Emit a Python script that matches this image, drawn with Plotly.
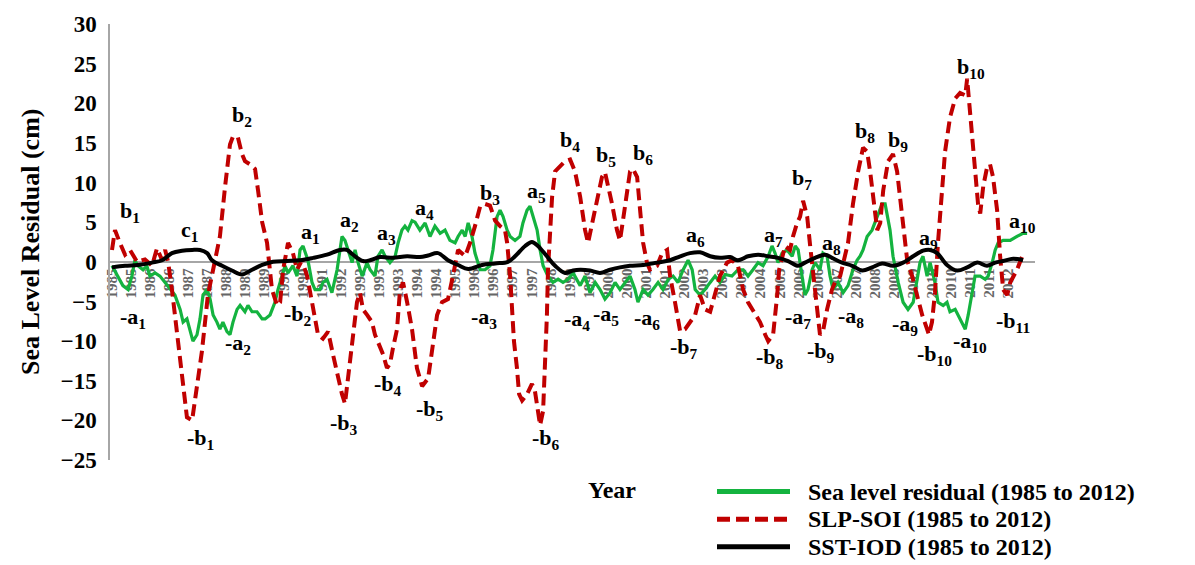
import plotly.graph_objects as go

# ---------------- data (x = months since Jan 1985) ----------------
soi_month = [0.0,1.1,2.9,4.8,6.6,9.2,12.1,14.7,16.5,18.4,19.5,20.6,22.0,23.9,26.1,27.5,29.4,30.5,33.0,35.2,37.8,39.6,41.5,43.3,44.4,46.2,47.7,48.8,50.6,52.5,53.6,55.1,56.9,58.7,60.6,61.7,62.8,64.6,66.4,67.9,69.7,71.6,73.4,75.6,77.4,79.3,81.1,82.9,84.4,85.5,86.6,88.1,89.9,91.0,92.1,93.6,95.4,96.5,98.4,99.5,100.9,102.0,103.1,104.6,105.7,106.8,108.3,110.1,111.9,113.8,116.0,117.8,119.3,121.1,123.3,125.1,127.0,129.6,131.4,133.2,135.1,136.9,138.7,140.6,142.4,144.2,145.0,146.1,146.8,147.5,148.6,149.4,150.5,152.3,154.1,155.2,156.3,157.1,158.2,158.9,159.6,160.0,160.7,161.5,162.6,164.4,166.3,168.1,169.9,171.8,173.6,174.7,176.2,178.0,179.8,180.9,182.0,183.5,185.3,186.4,187.5,189.0,190.1,191.2,192.7,193.8,194.9,196.3,197.4,200.0,201.9,203.7,204.8,206.6,208.5,210.3,212.1,214.0,215.8,217.6,219.5,221.3,223.1,225.7,227.5,229.7,231.6,233.4,236.0,237.8,239.7,240.8,242.6,243.3,244.1,244.8,245.9,247.0,248.8,249.9,251.4,252.5,253.6,255.1,256.2,257.3,258.7,259.8,260.9,262.4,264.2,265.3,267.2,268.3,270.1,271.9,273.8,275.6,277.1,278.2,279.3,280.8,281.9,283.0,284.8,286.6,288.1,289.2,290.3,291.8,293.6,295.4,297.3,299.1,299.8,300.9,302.0,303.1,304.6,305.7,307.5,309.4,311.2,313.1,313.8,314.5,315.6,316.7,317.8,318.6,319.7,321.1,322.2,323.3,324.8,325.9,327.0,328.5,329.6,332.1,334.0,335.1]
soi_value = [1.5,4.0,2.4,0.9,1.5,0,0.3,-0.5,1.7,0.2,1.5,0,-3.5,-9.2,-15.4,-19.6,-20,-17.5,-11.3,-4.2,0,3.2,9.5,14.8,15.8,15.7,13.6,12.7,12.3,11.7,9,5,2.4,-3.5,-5.5,-5.1,-1,2.4,1.1,-1,0.2,-1.8,-5.1,-9.2,-9.7,-8.8,-11.7,-14.7,-16.7,-17.9,-14.7,-10.9,-5.1,-3.9,-6,-6.7,-7.6,-9.2,-10.9,-11.7,-13.4,-12.9,-10.9,-8.5,-3.5,-2.6,-5.1,-8.5,-13.4,-15.7,-14.7,-10,-6.7,-5.1,-4.7,-1.8,1.5,0.7,2.4,4.5,7,7.3,7.1,5.2,4.5,4.0,2.4,-1.8,-6,-10,-13.4,-16.7,-17.5,-16.7,-15.4,-16.3,-18.8,-20.6,-18.8,-13.4,-6.7,-1,4,8.2,11.4,12.1,12.7,12.9,11.4,8.2,4,2.4,4.9,8.2,10.7,11.3,9.8,7.3,4,2.7,5.2,9,11.4,11.7,10.7,6.5,2.4,-0.1,-1,-0.5,1.1,1.5,-1.8,-5.1,-8.8,-8.5,-7.6,-6.7,-4.2,-6,-6.3,-4.2,-1.8,-0.1,0.2,-0.5,-3.5,-5.1,-6.7,-7.6,-9.2,-10,-9.2,-7.2,-4.2,-1,0.7,2,1.5,3.2,4.9,5.7,7.7,5.7,2,-1.8,-6,-9.2,-8.8,-6,-3.5,-2.6,-1.8,0,2.4,7.3,11.4,14.4,13.9,11.4,8.2,4,4.9,9,12.7,13.6,11.4,8.2,4,0.2,-1.8,-4.2,-6.7,-8.5,-9.2,-7.6,-3.9,2.4,8.6,13.9,18.2,20.6,21.3,21,23.1,20.1,15.7,11.4,7.3,6.1,9.5,11.9,12.3,10.7,6.5,0.7,-3.5,-4.2,-2.6,-1,0.7,0.7]

sea_month = [0.0,2.2,4.0,5.9,7.3,8.4,9.5,11.4,12.8,13.9,15.8,17.6,19.5,21.3,23.1,25.0,26.1,27.5,28.6,29.7,31.2,32.3,33.4,34.9,36.0,37.1,38.5,39.6,40.7,42.2,43.3,44.4,45.9,47.0,48.8,49.9,51.4,53.2,55.1,56.2,58.0,59.8,60.9,62.4,63.5,64.6,66.4,67.9,69.0,70.1,71.9,73.4,74.5,76.3,77.4,78.9,80.7,82.6,84.4,85.5,86.6,88.1,89.2,90.3,91.8,93.6,94.7,96.5,97.6,99.1,100.2,102.0,103.9,105.0,106.4,107.5,108.6,110.1,111.2,113.0,114.9,116.7,118.5,120.4,122.2,124.0,125.9,127.0,128.5,129.6,130.7,132.1,133.2,135.1,136.9,138.7,139.8,141.3,142.4,143.5,145.0,146.1,147.9,149.7,150.8,152.3,153.4,154.5,156.0,157.1,158.2,160.0,161.8,163.7,165.5,167.4,169.2,171.8,173.6,175.4,177.3,179.1,180.9,182.8,184.6,186.4,188.3,190.1,191.9,193.0,194.9,196.7,198.5,200.4,202.2,204.1,205.9,207.7,209.6,211.4,212.9,214.0,215.8,217.6,219.5,221.3,223.1,225.0,227.5,229.7,231.6,233.4,235.2,237.1,238.9,240.8,242.2,243.3,244.4,245.9,247.7,249.6,250.7,251.8,253.2,254.3,255.4,256.9,258.0,259.8,260.9,262.4,263.5,264.6,266.4,268.3,270.1,271.9,273.4,274.5,275.6,277.1,278.9,280.8,282.6,283.7,285.5,286.6,288.5,290.3,292.1,294.0,295.4,296.5,297.6,299.1,300.2,302.0,303.1,305.0,306.4,307.5,309.4,311.2,313.1,314.2,315.6,316.7,318.6,320.4,321.5,323.0,324.1,325.2,327.0,329.6,332.1,334.3,335.8]
sea_value = [-0.5,-1.8,-3,-3.5,-1.8,0.2,-0.5,-1,-0.5,-1.8,-1.4,-1.8,-2.6,-3.5,-4.2,-6,-7.6,-7.2,-8.8,-10,-9.2,-7.2,-4.2,-3.5,-4.7,-6.7,-7.6,-8.5,-7.6,-8.8,-9.2,-7.6,-6,-5.5,-6.3,-5.5,-6.3,-6.3,-7.2,-7.2,-6.7,-5.1,-3.5,-1.8,-0.5,-1.4,-0.5,-1.8,1.5,2,0.2,-2.6,-3.5,-3.5,-2.6,-2.2,-3.9,-1,3.2,2.7,1.5,-0.1,1.5,-0.1,-1.8,-0.1,-1,-1.8,0.7,1.5,0.7,-0.1,0.7,2.4,4,4.5,4,5.2,5.0,4,4.9,3.2,4.5,3.6,4,2.7,2.4,3.2,4,3.2,4.9,3.2,1.1,-1,-1,-0.5,1.5,5.7,6.5,5.7,4,3.2,2.7,3.2,4.9,6.5,7,5.7,4,1.5,-0.5,-1.8,-2.6,-2.2,-2.6,-2.2,-1.4,-3,-1.8,-3.9,-2.6,-3.5,-4.7,-3.9,-2.6,-3.5,-2.6,-1.8,-3.5,-5.1,-3.5,-4.2,-3.5,-2.6,-3.5,-2.2,-1.8,-2.6,-1,0.2,-1,-3.5,-4.2,-3.5,-2.6,-1.8,-2.6,-1.6,-1.8,-1,-1,-1.8,-1,-0.1,-0.5,0.7,2,1.1,-0.1,1.1,1.5,0.7,2,1.5,-1.8,-4.2,-3.5,-1,-0.1,-1,1.1,0.7,-1.8,-3.5,-2.6,-3.9,-3,-1,0.2,0.7,1.5,3.2,4,5.7,7.3,7.3,4,0.7,-2.6,-5.1,-6,-5.1,-2.6,-0.1,0.7,-1.8,-0.1,-2.6,-5.1,-5.5,-5.1,-6.3,-6,-7.2,-8.5,-6.7,-4.2,-1.8,-1.8,-2.2,-1.8,-0.1,1.5,2.4,2.7,2.7,3.2,3.6,3.6]

iod_month = [0.0,4.8,9.5,14.7,18.4,22.0,25.7,29.4,32.3,34.9,36.7,40.4,44.0,47.7,51.4,55.1,59.1,64.2,69.0,73.8,78.9,83.7,86.2,88.4,92.1,94.7,98.4,103.1,108.3,113.0,116.0,119.6,123.3,127.0,130.7,135.8,140.6,145.3,147.9,151.6,154.1,156.3,159.6,162.6,166.3,169.2,171.8,175.4,179.1,182.8,186.4,190.1,194.9,200.0,204.8,208.5,212.1,215.8,219.5,223.1,226.8,229.7,233.4,237.1,240.8,244.4,248.1,251.8,254.3,258.0,261.7,264.2,267.9,271.6,275.3,278.9,282.6,286.6,290.3,294.0,297.6,300.2,302.8,306.4,310.1,313.8,317.5,321.1,324.1,327.0,330.7,334.3]
iod_value = [-0.7,-0.5,-0.4,-0.1,0.2,1.1,1.4,1.5,1.5,1.1,0.2,-0.5,-1.1,-1.6,-1.0,-0.4,0,0.1,0.2,0.5,0.9,1.5,1.5,0.9,0.1,0.2,0.6,0.5,0.7,0.6,0.8,1.1,0.2,-0.4,-0.9,-0.4,-0.2,0,0.7,2,2.5,2,0.7,-0.5,-1.4,-1.1,-1.0,-1.1,-1.4,-1.0,-0.7,-0.5,-0.4,-0.1,0.2,0.7,1.1,1.2,0.7,0.5,0.6,0.2,0.7,0.9,0.7,0.5,0.1,-0.5,-0.1,0.5,0.9,0.5,-0.1,-0.5,-1.1,-0.7,-0.2,-0.5,-0.1,0.7,1.4,1.5,1.1,-0.4,-1.1,-0.7,-0.1,-0.5,-0.1,0.1,0.4,0.2]

tick_month = [0,7,14,21,28,35,42,49,56,63,70,77,84,91,98,105,112,119,126,133,140,147,154,161,168,175,182,189,196,203,210,217,224,231,238,245,252,259,266,273,280,287,294,301,308,315,322,329]
tick_year = ["1985","1985","1986","1986","1987","1987","1988","1989","1989","1990","1990","1991","1992","1992","1993","1993","1994","1994","1995","1996","1996","1997","1997","1998","1999","1999","2000","2000","2001","2001","2002","2003","2003","2004","2004","2005","2006","2006","2007","2007","2008","2008","2009","2010","2010","2011","2011","2012"]

label_text = ["b<sub>1</sub>","c<sub>1</sub>","b<sub>2</sub>","a<sub>1</sub>","a<sub>2</sub>","a<sub>3</sub>","a<sub>4</sub>","b<sub>3</sub>","a<sub>5</sub>","b<sub>4</sub>","b<sub>5</sub>","b<sub>6</sub>","a<sub>6</sub>","a<sub>7</sub>","b<sub>7</sub>","a<sub>8</sub>","b<sub>8</sub>","b<sub>9</sub>","a<sub>9</sub>","b<sub>10</sub>","a<sub>10</sub>",
              "-a<sub>1</sub>","-b<sub>1</sub>","-a<sub>2</sub>","-b<sub>2</sub>","-b<sub>3</sub>","-b<sub>4</sub>","-b<sub>5</sub>","-a<sub>3</sub>","-b<sub>6</sub>","-a<sub>4</sub>","-a<sub>5</sub>","-a<sub>6</sub>","-b<sub>7</sub>","-b<sub>8</sub>","-a<sub>7</sub>","-b<sub>9</sub>","-a<sub>8</sub>","-a<sub>9</sub>","-b<sub>10</sub>","-a<sub>10</sub>","-b<sub>11</sub>"]
label_month = [6.6,28.6,47.7,72.7,87.0,100.9,114.5,138.7,155.6,168.1,181.3,194.9,214.3,242.6,253.2,264.2,276.4,288.5,299.5,315.3,334.0,
               7.7,32.3,46.2,68.3,85.1,101.3,116.7,136.5,159.3,170.7,181.3,196.3,209.9,241.5,251.8,260.2,271.2,291.0,302.0,314.9,330.7]
label_value = [6.3,3.9,18.4,3.6,5.1,3.5,6.7,8.6,8.8,15.2,13.3,13.6,3.2,3.2,10.4,2.2,16.4,15.2,2.9,24.5,5.0,
               -7.1,-22.3,-10.4,-6.7,-20.4,-15.5,-18.7,-7.1,-22.3,-7.3,-6.7,-7.2,-10.9,-12.1,-7.1,-11.4,-7.0,-8.0,-11.8,-10.1,-7.6]

series_names = ["Sea level residual (1985 to 2012)", "SLP-SOI (1985 to 2012)", "SST-IOD (1985 to 2012)"]
series_colors = ["#14b33f", "#c00000", "#000000"]

# ---------------- figure ----------------
SERIF = "Liberation Serif, Times New Roman, serif"
# plot area in pixels: x 110..1035, y 18..460
PL, PR, PT, PB = 110, 1035, 18, 460
def px(xp):
    return (xp - PL) / (PR - PL)
def py(yp):
    return (PB - yp) / (PB - PT)

line_styles = [dict(color=series_colors[0], width=3.2),
               dict(color=series_colors[1], width=4, dash="12px,6px"),
               dict(color=series_colors[2], width=4, shape="spline")]

fig = go.Figure()
for name, xs, ys, ls in zip(series_names, [sea_month, soi_month, iod_month],
                            [sea_value, soi_value, iod_value], line_styles):
    fig.add_trace(go.Scatter(x=xs, y=ys, mode="lines", name=name, line=ls, showlegend=False))

for t, xm, yv in zip(label_text, label_month, label_value):
    fig.add_annotation(x=xm, y=yv, xref="x", yref="y", text=t, showarrow=False,
                       font=dict(family=SERIF, size=22, color="black", weight="bold"))

fig.add_annotation(x=px(30), y=0.5, xref="paper", yref="paper", text="Sea Level Residual (cm)",
                   textangle=-90, showarrow=False, xanchor="center", yanchor="middle",
                   font=dict(family=SERIF, size=26, color="black", weight="bold"))
fig.add_annotation(x=px(612), y=py(490), xref="paper", yref="paper", text="Year", showarrow=False,
                   xanchor="center", yanchor="middle",
                   font=dict(family=SERIF, size=24, color="black", weight="bold"))

# manual legend (below-right of the plot)
legend_rows = [492, 520, 548]
for name, row, ls in zip(series_names, legend_rows, line_styles):
    sty = dict(color=ls["color"], width=5)
    if "dash" in ls:
        sty["dash"] = "13px,6px"
    fig.add_shape(type="line", xref="paper", yref="paper",
                  x0=px(717), x1=px(790), y0=py(row), y1=py(row), line=sty)
    fig.add_annotation(x=px(806), y=py(row), xref="paper", yref="paper", text=name,
                       showarrow=False, xanchor="left", yanchor="middle",
                       font=dict(family=SERIF, size=24, color="black", weight="bold"))

fig.update_layout(
    width=1195, height=565,
    margin=dict(l=PL, r=1195 - PR, t=PT, b=565 - PB),
    paper_bgcolor="white", plot_bgcolor="white",
    showlegend=False,
    xaxis=dict(range=[-0.73, 338.7], anchor="free", position=25/55,
               showline=True, linecolor="#a6a6a6", linewidth=1.5,
               showgrid=False, zeroline=False, ticks="",
               tickmode="array", tickvals=tick_month, ticktext=tick_year,
               tickangle=-90, layer="below traces",
               tickfont=dict(family=SERIF, size=15, color="#666666", weight="bold")),
    yaxis=dict(range=[-25, 30], tickmode="array", tickvals=list(range(-25, 31, 5)),
               showline=True, linecolor="#a6a6a6", linewidth=1.5,
               showgrid=False, zeroline=False, ticks="", ticklabelstandoff=7,
               tickfont=dict(family=SERIF, size=23, color="black", weight="bold")),
)

fig.write_html("out.html")
